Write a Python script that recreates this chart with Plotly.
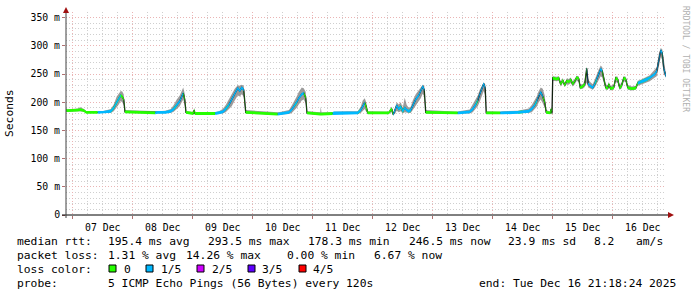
import plotly.graph_objects as go
import pandas as pd

# ---------------- data ----------------
# hours since 2025-12-07 00:00
hours = [-2.7, -2.2, 2.0, 3.0, 4.5, 5.4, 10.0, 12.0, 15.2, 16.4, 17.6, 18.4, 19.2, 19.8, 20.4, 20.9,
         33.0, 34.0, 37.0, 39.2, 40.4, 41.6, 42.8, 43.6, 44.2, 44.8, 45.3, 48.2, 48.6, 48.9,
         57.0, 58.5, 60.0, 61.2, 62.4, 63.6, 64.8, 66.0, 66.8, 67.6, 68.4, 69.2,
         82.0, 83.5, 86.5, 87.6, 88.8, 89.6, 90.4, 91.6, 92.4, 93.2, 93.7, 99.0, 99.2, 99.5,
         104.0, 104.5, 110.0, 114.0, 115.2, 116.0, 116.8, 117.4, 118.0,
         126.4, 127.2, 127.6, 128.2, 129.0, 129.6, 130.4, 131.2, 132.0, 132.8, 133.6, 134.4, 135.2,
         136.0, 137.2, 138.4, 139.2, 140.0, 140.6, 141.2,
         154.0, 154.5, 158.8, 160.0, 161.2, 162.0, 162.8, 163.6, 164.4, 165.0, 165.4,
         171.0, 172.0, 178.0, 180.0, 182.4, 183.6, 184.8, 185.6, 186.4, 187.2, 188.0, 188.8, 189.4,
         191.0, 191.4, 191.7, 192.0, 193.6, 194.4, 195.2, 196.0, 196.8, 197.6, 198.4, 199.2, 200.0,
         200.8, 201.6, 202.4, 203.0, 204.0, 204.8, 205.6, 206.2, 207.2, 208.0, 208.8, 209.6, 210.4,
         211.2, 211.8, 212.4, 213.2, 214.0, 214.4, 215.2, 216.4, 217.2, 218.0, 218.8, 219.6, 220.4,
         221.2, 222.0, 223.6, 225.2, 226.0, 227.2, 228.4, 229.6, 230.8, 231.6, 232.8, 233.6, 234.4,
         235.2, 235.8, 236.4, 237.3]
median_ms = [186, 185, 186, 187, 185, 182, 182, 182, 184, 190, 200, 206, 212, 210, 205, 183,
             181, 182, 182, 184, 188, 195, 202, 210, 216, 205, 182, 180, 186, 180,
             180, 181, 183, 188, 195, 205, 215, 225, 220, 226, 222, 182,
             179, 180, 182, 187, 194, 200, 207, 214, 216, 208, 181, 179, 180, 179,
             180, 181, 181, 181, 186, 193, 199, 192, 181,
             181, 186, 188, 178, 186, 194, 188, 192, 184, 190, 186, 184, 186,
             195, 205, 212, 220, 228, 222, 182,
             181, 181, 183, 188, 196, 203, 214, 224, 233, 225, 181,
             181, 181, 182, 183, 184, 188, 195, 202, 212, 218, 210, 200, 182,
             181, 188, 180, 243, 241, 243, 232, 239, 230, 238, 236, 240, 232,
             237, 244, 242, 226, 228, 232, 260, 232, 228, 226, 232, 240, 250,
             259, 255, 243, 226, 225, 232, 224, 226, 243, 240, 225, 230, 243,
             241, 226, 224, 225, 234, 236, 238, 240, 243, 246, 250, 255, 275,
             292, 287, 260, 246]
smoke_lo_ms = [182, 183, 184, 184, 183, 181, 181, 180, 181, 184, 190, 196, 202, 200, 195, 181,
               180, 180, 181, 181, 183, 188, 193, 200, 205, 195, 180, 179, 180, 179,
               179, 179, 180, 182, 187, 193, 203, 212, 210, 214, 210, 180,
               178, 178, 179, 181, 186, 190, 196, 203, 205, 198, 179, 178, 178, 178,
               179, 179, 179, 179, 181, 185, 188, 183, 180,
               180, 181, 182, 177, 180, 185, 182, 184, 180, 182, 181, 181, 181,
               186, 194, 200, 207, 215, 210, 180,
               180, 180, 180, 182, 188, 193, 201, 210, 220, 212, 180,
               180, 180, 180, 180, 181, 182, 187, 192, 200, 205, 198, 190, 180,
               180, 181, 179, 238, 237, 238, 228, 234, 227, 232, 231, 234, 228,
               232, 238, 236, 223, 224, 227, 235, 226, 224, 222, 226, 232, 240,
               246, 244, 234, 222, 222, 226, 221, 222, 236, 234, 222, 225, 237,
               236, 222, 221, 222, 229, 231, 233, 235, 237, 240, 243, 246, 262,
               280, 275, 250, 244]
smoke_hi_ms = [190, 187, 189, 191, 188, 184, 183, 184, 188, 196, 210, 216, 220, 219, 214, 186,
               183, 184, 185, 188, 195, 205, 212, 220, 226, 215, 185, 182, 190, 182,
               182, 184, 188, 195, 205, 215, 224, 230, 229, 231, 229, 186,
               182, 183, 186, 194, 203, 210, 218, 226, 225, 218, 184, 182, 192, 182,
               182, 183, 184, 184, 192, 203, 207, 200, 184,
               183, 190, 192, 181, 192, 200, 196, 200, 190, 208, 195, 190, 192,
               203, 214, 222, 227, 231, 230, 186,
               183, 184, 187, 196, 206, 212, 222, 230, 235, 232, 184,
               183, 184, 185, 187, 189, 195, 204, 210, 220, 226, 224, 212, 186,
               183, 192, 183, 246, 245, 246, 236, 243, 234, 242, 241, 244, 237,
               241, 247, 246, 232, 232, 238, 263, 240, 235, 232, 240, 250, 258,
               265, 262, 250, 232, 230, 236, 229, 231, 246, 245, 230, 236, 246,
               245, 231, 228, 229, 238, 240, 242, 245, 248, 252, 256, 262, 285,
               296, 294, 272, 250]
loss_fifths = [0, 0, 0, 0, 0, 0, 0, 1, 1, 0, 1, 0, 1, 0, 0, 0,
               0, 1, 1, 1, 1, 0, 1, 1, 1, 0, 0, 0, 0, 0,
               0, 1, 1, 1, 0, 1, 1, 1, 1, 1, 1, 0,
               0, 1, 1, 1, 1, 0, 1, 1, 1, 0, 0, 0, 0, 0,
               0, 1, 1, 1, 0, 1, 1, 0, 0,
               0, 0, 0, 0, 1, 1, 1, 0, 1, 0, 1, 1, 0,
               1, 1, 1, 1, 1, 1, 0,
               0, 1, 1, 1, 1, 0, 1, 1, 1, 1, 0,
               0, 1, 1, 0, 1, 1, 1, 0, 1, 1, 1, 0, 0,
               0, 0, 0, 0, 0, 0, 0, 0, 0, 0, 0, 0, 0,
               0, 0, 0, 0, 0, 0, 0, 1, 1, 1, 1, 0, 1,
               1, 1, 0, 0, 0, 0, 0, 0, 0, 0, 0, 0, 0,
               0, 0, 0, 0, 0, 1, 0, 1, 0, 1, 1, 1, 1,
               1, 1, 0, 1]

loss_labels = ["0", "1/5", "2/5", "3/5", "4/5"]
loss_colors = ["#26ff00", "#00b8ff", "#ce00ff", "#5e00ff", "#ff0000"]

y_tick_vals = [0, 50, 100, 150, 200, 250, 300, 350]
y_tick_text = ["0", "50 m", "100 m", "150 m", "200 m", "250 m", "300 m", "350 m"]

stats_rtt = ["median rtt:", "195.4 ms avg", "293.5 ms max", "178.3 ms min", "246.5 ms now",
             "23.9 ms sd", "8.2", "am/s"]
stats_loss = ["packet loss:", "1.31 % avg", "14.26 % max", "0.00 % min", "6.67 % now"]
probe_text = ["probe:", "5 ICMP Echo Pings (56 Bytes) every 120s", "end: Tue Dec 16 21:18:24 2025"]

start = "2025-12-06 21:18:24"
end = "2025-12-16 21:18:24"
day0 = pd.Timestamp("2025-12-07 00:00:00")

# ---------------- figure ----------------
W, H = 697, 297
L, R, T, B = 66, 31, 12, 82
PW, PH = W - L - R, H - T - B
Y_MAX = 360
MONO = "DejaVu Sans Mono"
BAND_MS = 1.4 * Y_MAX / PH  # half-height of the loss-coloured median band (about 1.4 px)


def px(x):
    return (x - L) / PW


def py(y):
    return (H - B - y) / PH


times = [day0 + pd.Timedelta(hours=h) for h in hours]
n = len(times)

fig = go.Figure()
# smoke
fig.add_trace(go.Scatter(x=times, y=smoke_lo_ms, mode="lines", line=dict(width=0),
                         hoverinfo="skip", showlegend=False))
fig.add_trace(go.Scatter(x=times, y=smoke_hi_ms, mode="lines", line=dict(width=0),
                         fill="tonexty", fillcolor="rgba(130,130,130,0.8)",
                         hoverinfo="skip", showlegend=False))
# median black
fig.add_trace(go.Scatter(x=times, y=median_ms, mode="lines", line=dict(color="#101010", width=1.3),
                         showlegend=False))
# loss-coloured median band (constant vertical height, as rrdtool stacks it)
for lvl, col in enumerate(loss_colors):
    seg_idx = [i for i in range(n) if loss_fifths[i] == lvl or (i + 1 < n and loss_fifths[i + 1] == lvl)]
    if not seg_idx:
        continue
    runs, cur = [], [seg_idx[0]]
    for i in seg_idx[1:]:
        if i == cur[-1] + 1:
            cur.append(i)
        else:
            runs.append(cur)
            cur = [i]
    runs.append(cur)
    for run in runs:
        if len(run) < 2:
            continue
        xs = [times[i] for i in run] + [times[i] for i in reversed(run)]
        ys = [median_ms[i] + BAND_MS for i in run] + [median_ms[i] - BAND_MS for i in reversed(run)]
        fig.add_trace(go.Scatter(x=xs, y=ys, mode="lines", fill="toself", fillcolor=col,
                                 line=dict(width=0), hoverinfo="skip", showlegend=False))

GRID_MAJOR = "#eab4b4"
GRID_MINOR = "#cfcfcf"
DASH = "1px,2px"
fig.update_layout(
    width=W, height=H, margin=dict(l=L, r=R, t=T, b=B),
    paper_bgcolor="white", plot_bgcolor="white", showlegend=False,
    xaxis=dict(type="date", range=[start, end], tick0="2025-12-07", dtick=86400000,
               ticklabelmode="period", tickformat="%d %b",
               tickfont=dict(family=MONO, size=9.8, color="black"),
               showgrid=True, gridcolor=GRID_MAJOR, griddash=DASH, gridwidth=1,
               ticks="outside", ticklen=3, tickcolor="#b07070",
               zeroline=False, showline=False,
               minor=dict(dtick=21600000, tick0="2025-12-07", showgrid=True,
                          gridcolor=GRID_MINOR, griddash=DASH, gridwidth=1, ticks="")),
    yaxis=dict(range=[0, Y_MAX], tickvals=y_tick_vals, ticktext=y_tick_text,
               tickfont=dict(family=MONO, size=9.8, color="black"),
               showgrid=True, gridcolor=GRID_MAJOR, griddash=DASH, gridwidth=1,
               ticks="outside", ticklen=3, tickcolor="#b07070",
               zeroline=False, showline=False,
               minor=dict(dtick=10, tick0=0, showgrid=True, gridcolor=GRID_MINOR,
                          griddash=DASH, gridwidth=1, ticks="")),
)

shapes = []
# axes lines
shapes.append(dict(type="line", xref="paper", yref="paper", x0=px(62), x1=px(669), y0=0, y1=0,
                   line=dict(color="black", width=1)))
shapes.append(dict(type="line", xref="paper", yref="paper", x0=0, x1=0, y0=py(218), y1=py(11),
                   line=dict(color="#404040", width=1)))
# arrows
shapes.append(dict(type="path", xref="paper", yref="paper",
                   path=f"M {px(63)},{py(13)} L {px(69)},{py(13)} L {px(66)},{py(7)} Z",
                   fillcolor="#a01010", line=dict(width=0)))
shapes.append(dict(type="path", xref="paper", yref="paper",
                   path=f"M {px(668)},{py(212)} L {px(668)},{py(218)} L {px(674)},{py(215)} Z",
                   fillcolor="#a01010", line=dict(width=0)))
# loss colour swatches
sw_x = [109, 146, 197, 248, 299]
for xs, col in zip(sw_x, loss_colors):
    shapes.append(dict(type="rect", xref="paper", yref="paper",
                       x0=px(xs), x1=px(xs + 7), y0=py(272), y1=py(265),
                       fillcolor=col, line=dict(color="black", width=1)))
fig.update_layout(shapes=shapes)

ann = []


def text(x, y, s, size=11.3, color="black", angle=0, xanchor="left"):
    ann.append(dict(x=px(x), y=py(y), xref="paper", yref="paper", text=s, showarrow=False,
                    xanchor=xanchor, yanchor="middle", textangle=angle,
                    font=dict(family=MONO, size=size, color=color), borderpad=0))


rtt_x = [16, 107, 207, 306.5, 407.5, 506.5, 593, 635]
for x, s in zip(rtt_x, stats_rtt):
    text(x, 241.5, s)
loss_x = [16, 107, 185, 286, 373]
for x, s in zip(loss_x, stats_loss):
    text(x, 255.5, s)
text(16, 269, "loss color:")
lab_x = [123, 160, 211, 261, 312]
for x, s in zip(lab_x, loss_labels):
    text(x, 269, s)
text(16, 283.5, probe_text[0])
text(107, 283.5, probe_text[1])
text(478, 283.5, probe_text[2])
# y title
ann.append(dict(x=px(10), y=py(113), xref="paper", yref="paper", text="Seconds", showarrow=False,
                xanchor="center", yanchor="middle", textangle=-90,
                font=dict(family=MONO, size=11.3, color="black")))
# watermark
ann.append(dict(x=px(686), y=py(59), xref="paper", yref="paper", text="RRDTOOL / TOBI OETIKER",
                showarrow=False, xanchor="center", yanchor="middle", textangle=90,
                font=dict(family=MONO, size=8, color="#b0b0b0")))
fig.update_layout(annotations=ann)

fig.write_html("out.html")
